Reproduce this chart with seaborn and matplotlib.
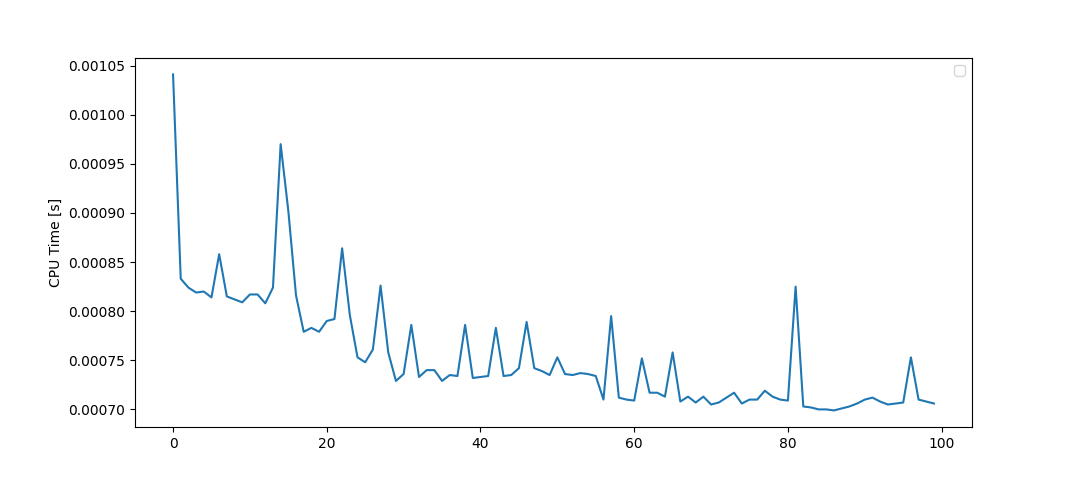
import numpy as np
import pandas as pd
import matplotlib
matplotlib.use("Agg")
import matplotlib.pyplot as plt
import seaborn as sns

# CPU time per iteration
cpu_time = [
    0.001041, 0.000833, 0.000824, 0.000819, 0.000820, 0.000814, 0.000858, 0.000815, 0.000812, 0.000809,
    0.000817, 0.000817, 0.000808, 0.000824, 0.000970, 0.000902, 0.000816, 0.000779, 0.000783, 0.000779,
    0.000790, 0.000792, 0.000864, 0.000796, 0.000753, 0.000748, 0.000761, 0.000826, 0.000758, 0.000729,
    0.000736, 0.000786, 0.000733, 0.000740, 0.000740, 0.000729, 0.000735, 0.000734, 0.000786, 0.000732,
    0.000733, 0.000734, 0.000783, 0.000734, 0.000735, 0.000742, 0.000789, 0.000742, 0.000739, 0.000735,
    0.000753, 0.000736, 0.000735, 0.000737, 0.000736, 0.000734, 0.000710, 0.000795, 0.000712, 0.000710,
    0.000709, 0.000752, 0.000717, 0.000717, 0.000713, 0.000758, 0.000708, 0.000713, 0.000707, 0.000713,
    0.000705, 0.000707, 0.000712, 0.000717, 0.000706, 0.000710, 0.000710, 0.000719, 0.000713, 0.000710,
    0.000709, 0.000825, 0.000703, 0.000702, 0.000700, 0.000700, 0.000699, 0.000701, 0.000703, 0.000706,
    0.000710, 0.000712, 0.000708, 0.000705, 0.000706, 0.000707, 0.000753, 0.000710, 0.000708, 0.000706,
]
iterations = list(range(len(cpu_time)))

df = pd.DataFrame({"iteration": iterations, "cpu_time": cpu_time})

fig, ax = plt.subplots(figsize=(10.8, 4.8), dpi=100)
sns.lineplot(data=df, x="iteration", y="cpu_time", ax=ax)
ax.set_xlabel("")
ax.set_ylabel("CPU Time [s]")
ax.legend()  # empty legend box, as in the original

fig.savefig("out.png", dpi=100)
